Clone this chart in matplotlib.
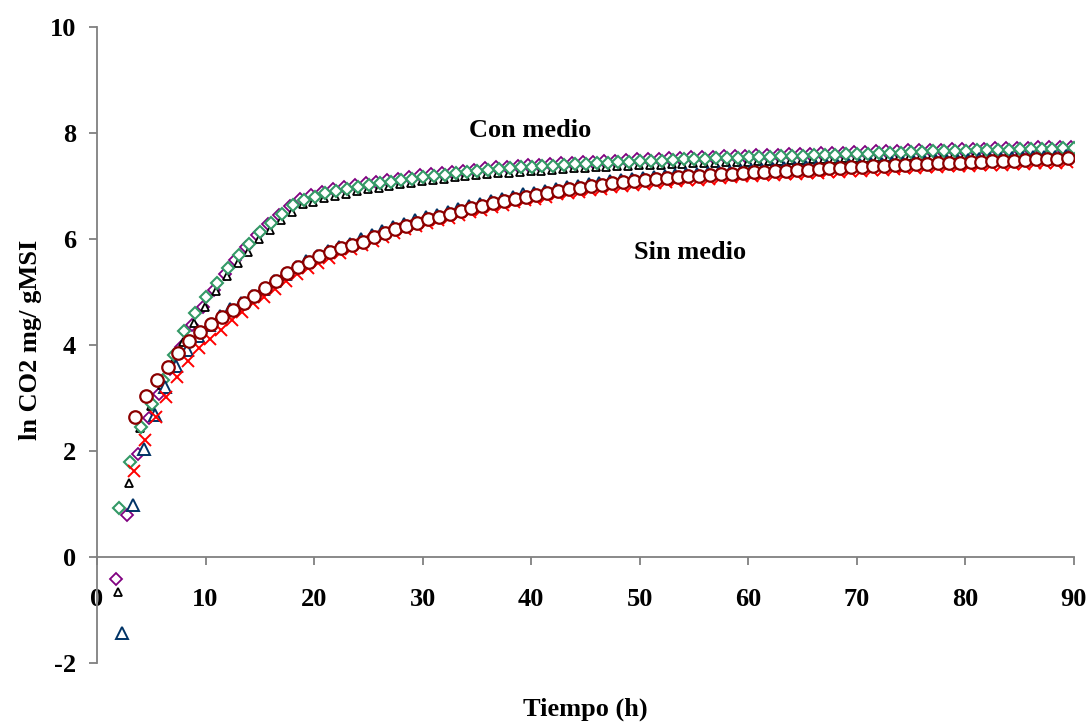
import numpy as np
import matplotlib.pyplot as plt

# Sampling start times (h); each replicate was read every hour
t0_purple = 1.75
t0_black = 1.95
t0_green = 2.05
t0_blue = 2.3
t0_red = 3.4
t0_circle = 3.5

# ln CO2 (mg / g MSI) - con medio
con_purple = [
    -0.41, 0.79, 1.94, 2.62, 3.08, 3.55, 3.97, 4.38, 4.72, 5.04,
    5.33, 5.60, 5.85, 6.07, 6.28, 6.46, 6.62, 6.75, 6.83, 6.89,
    6.94, 6.98, 7.01, 7.05, 7.08, 7.11, 7.14, 7.17, 7.20, 7.22,
    7.24, 7.27, 7.29, 7.31, 7.33, 7.35, 7.36, 7.38, 7.39, 7.40,
    7.41, 7.43, 7.44, 7.45, 7.46, 7.47, 7.48, 7.49, 7.50, 7.51,
    7.51, 7.52, 7.53, 7.54, 7.54, 7.55, 7.56, 7.56, 7.57, 7.58,
    7.58, 7.59, 7.60, 7.60, 7.61, 7.62, 7.62, 7.63, 7.64, 7.64,
    7.65, 7.65, 7.66, 7.67, 7.67, 7.68, 7.68, 7.69, 7.69, 7.70,
    7.70, 7.71, 7.71, 7.72, 7.72, 7.73, 7.73, 7.74, 7.74,
]
con_black = [
    -0.66, 1.40, 2.43, 2.85, 3.25, 3.65, 4.06, 4.41, 4.72, 5.01,
    5.30, 5.54, 5.76, 5.99, 6.17, 6.36, 6.50, 6.66, 6.70, 6.78,
    6.81, 6.85, 6.90, 6.94, 6.97, 7.00, 7.03, 7.06, 7.09, 7.11,
    7.13, 7.16, 7.18, 7.20, 7.22, 7.24, 7.25, 7.27, 7.28, 7.29,
    7.30, 7.32, 7.33, 7.34, 7.35, 7.36, 7.37, 7.38, 7.39, 7.40,
    7.40, 7.41, 7.42, 7.43, 7.43, 7.44, 7.45, 7.45, 7.46, 7.47,
    7.47, 7.48, 7.49, 7.49, 7.50, 7.51, 7.51, 7.52, 7.53, 7.53,
    7.54, 7.54, 7.55, 7.56, 7.56, 7.57, 7.57, 7.58, 7.58, 7.59,
    7.59, 7.60, 7.60, 7.61, 7.61, 7.62, 7.62, 7.63, 7.63,
]
con_green = [
    0.93, 1.80, 2.46, 2.89, 3.34, 3.81, 4.26, 4.60, 4.91, 5.16,
    5.45, 5.70, 5.90, 6.14, 6.31, 6.48, 6.64, 6.74, 6.80, 6.86,
    6.91, 6.94, 6.98, 7.02, 7.05, 7.08, 7.11, 7.14, 7.17, 7.19,
    7.21, 7.24, 7.26, 7.28, 7.30, 7.32, 7.33, 7.35, 7.36, 7.37,
    7.38, 7.40, 7.41, 7.42, 7.43, 7.44, 7.45, 7.46, 7.47, 7.48,
    7.48, 7.49, 7.50, 7.51, 7.51, 7.52, 7.53, 7.53, 7.54, 7.55,
    7.55, 7.56, 7.57, 7.57, 7.58, 7.59, 7.59, 7.60, 7.61, 7.61,
    7.62, 7.62, 7.63, 7.64, 7.64, 7.65, 7.65, 7.66, 7.66, 7.67,
    7.67, 7.68, 7.68, 7.69, 7.69, 7.70, 7.70, 7.71, 7.71,
]

# ln CO2 (mg / g MSI) - sin medio
sin_blue = [
    -1.43, 0.98, 2.03, 2.68, 3.20, 3.60, 3.91, 4.16, 4.37, 4.55,
    4.68, 4.79, 4.92, 5.06, 5.20, 5.34, 5.47, 5.58, 5.68, 5.77,
    5.85, 5.91, 5.99, 6.07, 6.15, 6.22, 6.29, 6.35, 6.41, 6.46,
    6.51, 6.57, 6.62, 6.66, 6.71, 6.75, 6.80, 6.84, 6.87, 6.91,
    6.95, 6.98, 7.00, 7.03, 7.06, 7.09, 7.11, 7.13, 7.15, 7.17,
    7.19, 7.20, 7.22, 7.23, 7.25, 7.26, 7.27, 7.29, 7.30, 7.31,
    7.32, 7.33, 7.34, 7.35, 7.36, 7.37, 7.38, 7.39, 7.40, 7.41,
    7.42, 7.43, 7.44, 7.45, 7.46, 7.47, 7.48, 7.48, 7.49, 7.50,
    7.51, 7.51, 7.52, 7.53, 7.54, 7.54, 7.55, 7.56,
]
sin_red = [
    1.63, 2.21, 2.64, 3.02, 3.39, 3.69, 3.94, 4.11, 4.28, 4.47,
    4.63, 4.79, 4.91, 5.05, 5.20, 5.33, 5.45, 5.55, 5.65, 5.74,
    5.81, 5.88, 5.96, 6.04, 6.11, 6.18, 6.24, 6.30, 6.35, 6.40,
    6.46, 6.51, 6.55, 6.60, 6.64, 6.69, 6.73, 6.76, 6.80, 6.84,
    6.87, 6.89, 6.92, 6.95, 6.98, 7.00, 7.02, 7.04, 7.06, 7.08,
    7.09, 7.11, 7.12, 7.14, 7.15, 7.16, 7.18, 7.19, 7.20, 7.21,
    7.22, 7.23, 7.24, 7.25, 7.26, 7.27, 7.28, 7.29, 7.30, 7.31,
    7.32, 7.33, 7.34, 7.35, 7.36, 7.37, 7.37, 7.38, 7.39, 7.40,
    7.40, 7.41, 7.42, 7.43, 7.43, 7.44, 7.45,
]
sin_circle = [
    2.65, 3.04, 3.34, 3.59, 3.84, 4.08, 4.25, 4.40, 4.53, 4.66,
    4.79, 4.93, 5.08, 5.21, 5.35, 5.47, 5.57, 5.67, 5.75, 5.82,
    5.88, 5.95, 6.03, 6.11, 6.18, 6.25, 6.31, 6.37, 6.42, 6.47,
    6.53, 6.58, 6.62, 6.67, 6.71, 6.76, 6.80, 6.83, 6.87, 6.91,
    6.94, 6.96, 6.99, 7.02, 7.05, 7.07, 7.09, 7.11, 7.13, 7.15,
    7.16, 7.18, 7.19, 7.21, 7.22, 7.23, 7.25, 7.26, 7.27, 7.28,
    7.29, 7.30, 7.31, 7.32, 7.33, 7.34, 7.35, 7.36, 7.37, 7.38,
    7.39, 7.40, 7.41, 7.42, 7.43, 7.44, 7.44, 7.45, 7.46, 7.47,
    7.47, 7.48, 7.49, 7.50, 7.50, 7.51, 7.52,
]


def hours(t0, values):
    return t0 + np.arange(len(values))


plt.rcParams['font.family'] = ['Liberation Serif', 'DejaVu Serif']
plt.rcParams['font.weight'] = 'bold'
plt.rcParams['font.size'] = 19
plt.rcParams['axes.unicode_minus'] = False

fig = plt.figure(figsize=(10.9, 7.22), dpi=100)
ax = fig.add_axes([0.089, 0.0817, 0.896, 0.881])

open_mk = dict(linestyle='none', markerfacecolor='white')
ax.plot(hours(t0_purple, con_purple), con_purple, marker='D', ms=6.5,
        mec='#800080', mew=1.3, **open_mk)
ax.plot(hours(t0_black, con_black), con_black, marker='^', ms=5.5,
        mec='black', mew=1.3, **open_mk)
ax.plot(hours(t0_green, con_green), con_green, marker='D', ms=6.5,
        mec='#339966', mew=1.5, **open_mk)
ax.plot(hours(t0_blue, sin_blue), sin_blue, marker='^', ms=8,
        mec='#003366', mew=1.4, **open_mk)
ax.plot(hours(t0_red, sin_red), sin_red, marker='x', ms=8.5,
        color='red', mew=1.4, linestyle='none')
ax.plot(hours(t0_circle, sin_circle), sin_circle, marker='o', ms=9,
        mec='#8B0000', mew=1.6, **open_mk)

ax.set_xlim(0, 90)
ax.set_ylim(-2, 10)
ax.set_xticks(np.arange(0, 91, 10))
ax.set_yticks(np.arange(-2, 11, 2))

for side in ('top', 'right'):
    ax.spines[side].set_visible(False)
ax.spines['bottom'].set_position(('data', 0))
for side in ('left', 'bottom'):
    ax.spines[side].set_color('#808080')
    ax.spines[side].set_linewidth(1.3)
ax.tick_params(axis='both', direction='out', length=6, width=1.3,
               color='#808080', labelsize=19)
ax.tick_params(axis='x', pad=16)
ax.tick_params(axis='y', pad=9)

# curve labels
fig.text(0.486, 0.8186, 'Con medio', ha='center', va='center',
         fontsize=19, fontweight='bold')
fig.text(0.633, 0.6496, 'Sin medio', ha='center', va='center',
         fontsize=19, fontweight='bold')

fig.text(0.537, 0.017, 'Tiempo (h)', ha='center', va='center',
         fontsize=19, fontweight='bold')
fig.text(0.028, 0.529, 'ln CO2 mg/ gMSI', rotation=90, ha='center',
         va='center', fontsize=19, fontweight='bold')

fig.savefig('out.png', dpi=100)
